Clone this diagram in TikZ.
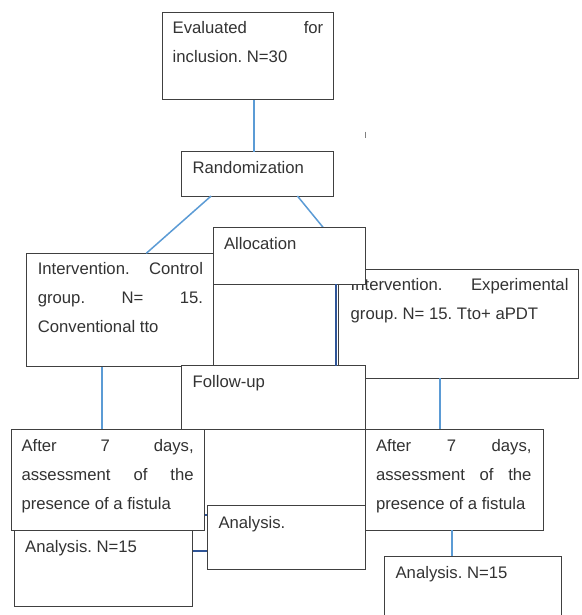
\documentclass[tikz,border=0pt]{standalone}
\usepackage{fontspec}
\setmainfont{Liberation Sans}
\definecolor{lblue}{HTML}{5B9BD5}
\definecolor{dblue}{HTML}{2F5597}
\definecolor{bord}{HTML}{404040}
\definecolor{txtc}{HTML}{333333}
\newcommand{\jline}[1]{\makebox[\linewidth][s]{#1}}
\frenchspacing
\tikzset{
  box/.style={draw=bord, line width=1pt, fill=white, anchor=north west, inner sep=0pt, outer sep=0pt},
  lbl/.style={anchor=base west, inner sep=0pt, outer sep=0pt, text=txtc, font=\fontsize{16.7}{29}\selectfont},
  lb/.style={draw=lblue, line width=1.5pt},
  db/.style={draw=dblue, line width=1.5pt},
}
\begin{document}
\begin{tikzpicture}[x=1pt, y=-1pt]
\useasboundingbox (0,0) rectangle (581,615);
\clip (0,0) rectangle (581,615);
\fill[white] (0,0) rectangle (581,615);

% helper coordinates for connector positions
\coordinate (xa) at (254,0);
\coordinate (xb) at (211.1,0);
\coordinate (xc) at (146.3,0);
\coordinate (xd) at (297.4,0);
\coordinate (xe) at (357.4,0);
\coordinate (xf) at (102,0);
\coordinate (xg) at (440,0);
\coordinate (xh) at (452,0);
\coordinate (xi) at (336,0);
\coordinate (ya) at (0,515);
\coordinate (yb) at (0,551);
\coordinate (t1) at (365.7,131.5);
\coordinate (t2) at (365.7,137.5);

% Evaluated
\node[box, minimum width=171.4pt, minimum height=87.7pt] (ev) at (162.3,12.3) {};
\node[lbl] (evt) at (172.7,34) {\parbox[t]{150.6pt}{\jline{Evaluated for}\\inclusion. N=30}};

% Randomization
\node[box, minimum width=151.8pt, minimum height=44.3pt] (rand) at (181.5,151.7) {};
\node[lbl] (randt) at (192.6,173) {Randomization};

\draw[gray, line width=0.8pt] (t1) -- (t2);

% light blue connectors (behind boxes)
\draw[lb] (ev.south -| xa) -- (rand.north -| xa);

% Control box
\node[box, minimum width=187pt, minimum height=113.4pt] (ctrl) at (26.7,253.3) {};
\node[lbl] (ctrlt) at (37.8,274) {\parbox[t]{165.2pt}{\jline{Intervention. Control}\\\jline{group. N= 15.}\\Conventional tto}};

% Experimental box
\node[box, minimum width=239.6pt, minimum height=109pt] (exp) at (338.9,269.3) {};
\node[lbl] (expt) at (350.7,290.7) {\parbox[t]{217.8pt}{\jline{Intervention. Experimental}\\group. N= 15. Tto+ aPDT}};

\draw[lb] (rand.south -| xb) -- (ctrl.north -| xc);
\draw[lb] (rand.south -| xd) -- (exp.north -| xe);

% Allocation box (on top of experimental box)
\node[box, minimum width=151.9pt, minimum height=57pt] (alloc) at (213.7,227.3) {};
\node[lbl] (alloct) at (224,249) {Allocation};

% Follow-up box
\node[box, minimum width=184.1pt, minimum height=63.6pt] (fu) at (181.5,365.7) {};
\node[lbl] (fut) at (192.6,387) {Follow-up};

\draw[db] (alloc.south -| xi) -- (fu.north -| xi);

% left analysis (behind left after box)
\node[box, minimum width=177.8pt, minimum height=106.7pt] (anl) at (14.8,500) {};
\node[lbl] (anlt) at (25.2,552) {Analysis. N=15};

\draw[lb] (ctrl.south -| xf) -- ++(0,62.6);

% left after box
\node[box, minimum width=193.7pt, minimum height=100.7pt] (aftl) at (11.1,429.3) {};
\node[lbl] (aftlt) at (21.5,451) {\parbox[t]{172.2pt}{\jline{After 7 days,}\\\jline{assessment of the}\\presence of a fistula}};

% middle analysis box
\node[box, minimum width=158.2pt, minimum height=63.3pt] (anm) at (207.4,505.7) {};
\node[lbl] (anmt) at (218.5,528.7) {Analysis.};

\draw[db] (aftl.east |- ya) -- (anm.west |- ya);
\draw[db] (anl.east |- yb) -- (anm.west |- yb);

% right after box
\node[box, minimum width=177.7pt, minimum height=100.7pt] (aftr) at (365.6,429.3) {};
\node[lbl] (aftrt) at (376,451) {\parbox[t]{155.5pt}{\jline{After 7 days,}\\\jline{assessment of the}\\presence of a fistula}};

\draw[lb] (exp.south -| xg) -- (aftr.north -| xg);

% right analysis box
\node[box, minimum width=177.9pt, minimum height=80pt] (anr) at (384,556) {};
\node[lbl] (anrt) at (395.6,578.7) {Analysis. N=15};

\draw[lb] (aftr.south -| xh) -- (anr.north -| xh);
\end{tikzpicture}
\end{document}
